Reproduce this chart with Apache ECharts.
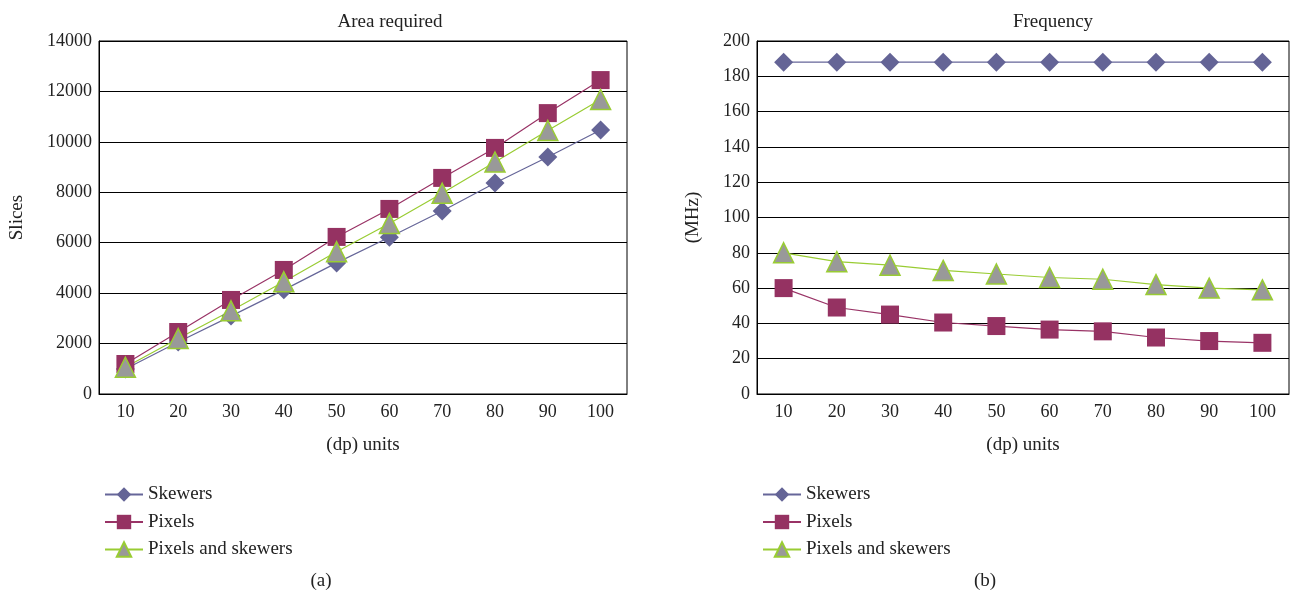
<!DOCTYPE html>
<html><head><meta charset="utf-8">
<script src="https://cdn.jsdelivr.net/npm/echarts@6/dist/echarts.min.js"></script>
<style>html,body{margin:0;padding:0;background:#fff}#c{width:1290px;height:595px}</style>
</head><body><div id="c"></div>
<script>
const categories = ['10','20','30','40','50','60','70','80','90','100'];
const seriesNames = ['Skewers','Pixels','Pixels and skewers'];
const areaSkewers = [990, 2060, 3090, 4130, 5200, 6220, 7260, 8370, 9400, 10470];
const areaPixels = [1190, 2460, 3730, 4920, 6230, 7340, 8570, 9760, 11140, 12450];
const areaBoth = [1060, 2200, 3300, 4450, 5640, 6760, 7960, 9200, 10450, 11680];
const freqSkewers = [188, 188, 188, 188, 188, 188, 188, 188, 188, 188];
const freqPixels = [60, 49, 45, 40.5, 38.5, 36.5, 35.5, 32, 30, 29];
const freqBoth = [80, 75, 73, 70, 68, 66, 65, 62, 60, 59];

const FONT = 'Liberation Serif';
const styles = [
  {symbol:'diamond', symbolSize:19, line:'#666699', color:'#646496', border:'#646496', bw:0},
  {symbol:'rect', symbolSize:18, line:'#993366', color:'#953262', border:'#953262', bw:0},
  {symbol:'triangle', symbolSize:20, line:'#99cc33', color:'#999999', border:'#99cc33', bw:1.5}
];
function mk(name, data, idx, s){
  return {name, type:'line', data, xAxisIndex:idx, yAxisIndex:idx,
    symbol:s.symbol, symbolSize:s.symbolSize, showAllSymbol:true,
    lineStyle:{color:s.line, width:1.2},
    itemStyle:{color:s.color, borderColor:s.border, borderWidth:s.bw},
    animation:false};
}
const grids = [
  {left:99, top:41, width:528, height:353, show:true, borderColor:'#000', borderWidth:1},
  {left:757, top:41, width:532, height:353, show:true, borderColor:'#000', borderWidth:1}
];
function xAx(i){
  return {type:'category', gridIndex:i, data:categories, boundaryGap:true,
    axisLine:{lineStyle:{color:'#000'}}, axisTick:{show:false},
    axisLabel:{fontFamily:FONT, fontSize:18, color:'#222', margin:9},
    name:'(dp) units', nameLocation:'middle', nameGap:42,
    nameTextStyle:{fontFamily:FONT, fontSize:19, color:'#222'}};
}
function yAx(i, max, interval, name, gap){
  return {type:'value', gridIndex:i, min:0, max, interval,
    axisLine:{show:true, lineStyle:{color:'#000'}}, axisTick:{show:false},
    axisLabel:{fontFamily:FONT, fontSize:18, color:'#222', margin:7, formatter:v=>String(v)},
    splitLine:{lineStyle:{color:'#000', width:1}},
    name, nameLocation:'middle', nameGap:gap, nameRotate:90,
    nameTextStyle:{fontFamily:FONT, fontSize:19, color:'#222'}};
}
const legendBase = {orient:'vertical', itemWidth:38, itemHeight:18, itemGap:8.5,
  textStyle:{fontFamily:FONT, fontSize:19, color:'#222'}};
const tstyle = {fontFamily:FONT, fontSize:19, fontWeight:'normal', color:'#222'};
const option = {
  backgroundColor:'#fff',
  animation:false,
  title:[
    {text:'Area required', left:385, top:8, textAlign:'center', textStyle:tstyle},
    {text:'Frequency', left:1048, top:8, textAlign:'center', textStyle:tstyle},
    {text:'(a)', left:316, top:567, textAlign:'center', textStyle:tstyle},
    {text:'(b)', left:980, top:567, textAlign:'center', textStyle:tstyle}
  ],
  grid:grids,
  xAxis:[xAx(0), xAx(1)],
  yAxis:[yAx(0, 14000, 2000, 'Slices', 72), yAx(1, 200, 20, '(MHz)', 54)],
  legend:[
    Object.assign({}, legendBase, {left:99, top:480, data:seriesNames.map(n=>n)}),
    Object.assign({}, legendBase, {left:757, top:480, data:seriesNames.map(n=>n+' ')})
  ],
  series:[
    mk(seriesNames[0], areaSkewers, 0, styles[0]),
    mk(seriesNames[1], areaPixels, 0, styles[1]),
    mk(seriesNames[2], areaBoth, 0, styles[2]),
    mk(seriesNames[0]+' ', freqSkewers, 1, styles[0]),
    mk(seriesNames[1]+' ', freqPixels, 1, styles[1]),
    mk(seriesNames[2]+' ', freqBoth, 1, styles[2])
  ]
};
const chart = echarts.init(document.getElementById('c'), null, {renderer:'canvas'});
chart.setOption(option);
</script></body></html>
